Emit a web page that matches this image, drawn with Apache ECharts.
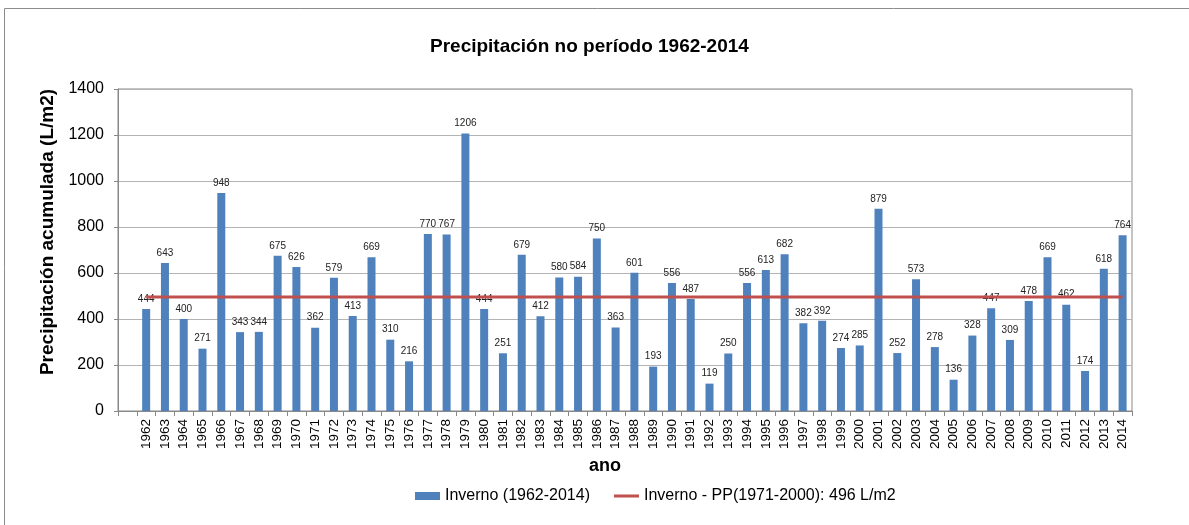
<!DOCTYPE html>
<html>
<head>
<meta charset="utf-8">
<script src="https://cdn.jsdelivr.net/npm/echarts@6/dist/echarts.min.js"></script>
<style>
  html, body { margin: 0; padding: 0; background: #fff; }
  #chart { width: 1189px; height: 525px; }
</style>
</head>
<body>
<div id="chart"></div>
<script>
var chartDom = document.getElementById('chart');
var myChart = echarts.init(chartDom);

// anos (a primeira categoria vazia, como no gráfico original)
const years = ['', '1962', '1963', '1964', '1965', '1966', '1967', '1968', '1969', '1970',
  '1971', '1972', '1973', '1974', '1975', '1976', '1977', '1978', '1979', '1980',
  '1981', '1982', '1983', '1984', '1985', '1986', '1987', '1988', '1989', '1990',
  '1991', '1992', '1993', '1994', '1995', '1996', '1997', '1998', '1999', '2000',
  '2001', '2002', '2003', '2004', '2005', '2006', '2007', '2008', '2009', '2010',
  '2011', '2012', '2013', '2014'];

// precipitação acumulada no inverno (L/m2)
const inverno = [null, 444, 643, 400, 271, 948, 343, 344, 675, 626,
  362, 579, 413, 669, 310, 216, 770, 767, 1206, 444,
  251, 679, 412, 580, 584, 750, 363, 601, 193, 556,
  487, 119, 250, 556, 613, 682, 382, 392, 274, 285,
  879, 252, 573, 278, 136, 328, 447, 309, 478, 669,
  462, 174, 618, 764];

// média 1971-2000
const mediaPP = 496;
const media = years.map(y => (y === '' ? null : mediaPP));

const yTicks = { min: 0, max: 1400, interval: 200 };

const font = 'Arial, "Liberation Sans", sans-serif';

// ícone de linha para a legenda (pontos extra só para fixar a caixa)
const lineIcon = 'path://M0,0L0.01,0Z M0,2.5L25,2.5L25,5.5L0,5.5Z M0,8L0.01,8Z';

var option = {
  animation: false,
  backgroundColor: '#fff',
  title: {
    text: 'Precipitación no período 1962-2014',
    left: 430,
    top: 37,
    padding: 0,
    textStyle: { fontFamily: font, fontSize: 19, fontWeight: 'bold', color: '#000' }
  },
  legend: {
    left: 415,
    top: 488,
    padding: 0,
    itemWidth: 25,
    itemHeight: 8,
    itemGap: 24,
    textStyle: { fontFamily: font, fontSize: 16, color: '#000' },
    data: [
      { name: 'Inverno (1962-2014)', icon: 'rect' },
      { name: 'Inverno - PP(1971-2000): 496 L/m2', icon: lineIcon }
    ]
  },
  grid: {
    left: 118,
    right: 57,
    top: 89,
    bottom: 114,
    show: true,
    borderColor: '#888',
    borderWidth: 1
  },
  graphic: [
    {
      type: 'rect',
      shape: { x: 4.5, y: 8.5, width: 1300, height: 700 },
      style: { fill: 'none', stroke: '#8c8c8c', lineWidth: 1 },
      silent: true
    },
    {
      type: 'text',
      x: 48,
      y: 232,
      rotation: Math.PI / 2,
      style: {
        text: 'Precipitación acumulada (L/m2)',
        fontFamily: font, fontSize: 19, fontWeight: 'bold', fill: '#000',
        align: 'center', verticalAlign: 'middle'
      }
    },
    {
      type: 'text',
      x: 605,
      y: 466,
      style: {
        text: 'ano',
        fontFamily: font, fontSize: 18, fontWeight: 'bold', fill: '#000',
        align: 'center', verticalAlign: 'middle'
      }
    }
  ],
  xAxis: {
    type: 'category',
    data: years,
    axisLine: { lineStyle: { color: '#888' } },
    axisTick: { show: true, interval: 0, length: 5, lineStyle: { color: '#888' } },
    axisLabel: {
      interval: 0,
      rotate: 90,
      margin: 8,
      fontFamily: font,
      fontSize: 13.5,
      color: '#000'
    },
    splitLine: { show: false }
  },
  yAxis: {
    type: 'value',
    min: yTicks.min,
    max: yTicks.max,
    interval: yTicks.interval,
    axisLine: { show: true, lineStyle: { color: '#888' } },
    axisTick: { show: true, length: 4, lineStyle: { color: '#888' } },
    axisLabel: {
      margin: 14, fontFamily: font, fontSize: 16, color: '#000',
      formatter: v => String(v)
    },
    splitLine: { show: true, lineStyle: { color: '#b4b4b4', width: 1 } }
  },
  series: [
    {
      name: 'Inverno (1962-2014)',
      type: 'bar',
      data: inverno,
      barWidth: 8,
      itemStyle: { color: '#4F81BD' },
      label: {
        show: true,
        position: 'top',
        distance: 5,
        fontFamily: font,
        fontSize: 10,
        color: '#222'
      }
    },
    {
      name: 'Inverno - PP(1971-2000): 496 L/m2',
      type: 'line',
      data: media,
      symbol: 'none',
      z: 5,
      lineStyle: { color: '#C0504D', width: 3 },
      itemStyle: { color: '#C0504D' }
    }
  ]
};

option && myChart.setOption(option);
</script>
</body>
</html>
